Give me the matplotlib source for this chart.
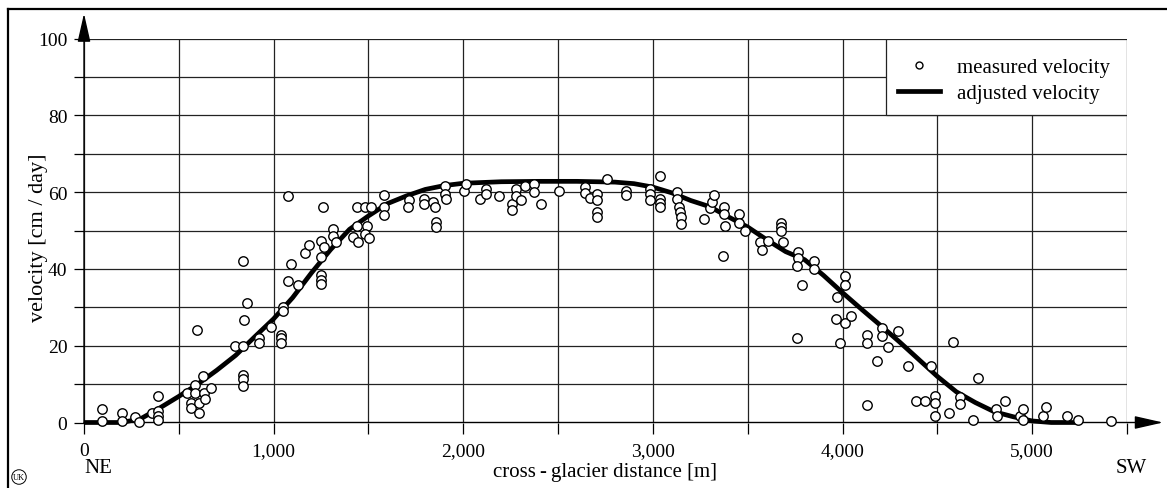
import matplotlib.pyplot as plt
from matplotlib.patches import Rectangle
from matplotlib.lines import Line2D
from matplotlib.ticker import FuncFormatter

plt.rcParams['font.family'] = ['Liberation Serif', 'DejaVu Serif']

# measured velocity points (distance m, velocity cm/day)
dist_measured = [93, 93, 199, 199, 269, 292, 357, 392, 392, 392, 392,
                 545, 563, 563, 586, 586, 596, 607, 607, 630, 634, 638, 670,
                 797, 837, 837, 837, 837, 837, 858, 846, 923, 923, 987,
                 1040, 1040, 1040, 1052, 1052, 1078, 1092, 1128, 1163,
                 1250, 1250, 1250, 1250,
                 1078, 1258, 1189, 1251, 1263, 1315, 1315, 1330,
                 1439, 1483, 1513, 1439, 1491, 1421, 1447, 1483, 1501,
                 1580, 1580, 1580, 1712, 1706, 1794, 1794, 1843, 1849, 1858, 1858,
                 1905, 1905, 1909, 2002, 2016, 2086, 2120, 2120, 2190,
                 2257, 2257, 2278, 2278, 2304, 2327, 2371, 2371, 2412, 2507,
                 2640, 2644, 2667, 2705, 2705, 2705, 2705,
                 2758, 2858, 2858, 2983, 2983, 2983,
                 3040, 3040, 3040, 3040, 3127, 3127, 3140, 3145, 3150, 3150,
                 3268, 3300, 3312, 3321, 3374, 3374, 3379, 3370, 3456, 3456,
                 3483, 3567, 3573, 3607, 3678, 3678, 3678, 3687, 3766,
                 3766, 3761, 3784, 3761, 3849, 3849, 4012, 4012, 3972, 3966,
                 4012, 4042, 3986, 4130, 4130, 4127, 4206, 4206, 4241, 4183,
                 4294, 4346, 4464, 4389, 4433, 4487, 4487, 4487, 4561, 4584,
                 4619, 4619, 4688, 4714, 4811, 4816, 4857, 4934, 4952, 4952,
                 5059, 5075, 5186, 5243, 5418]
vel_measured = [3.6, 0.4, 2.6, 0.4, 1.5, 0.2, 2.6, 7, 3, 1.7, 0.6,
                7.8, 5.2, 3.9, 9.7, 7.8, 24, 5, 2.5, 12, 7.8, 6, 8.9,
                19.9, 42, 19.9, 12.3, 11.2, 9.5, 31, 26.8, 21.9, 20.8, 24.8,
                22.9, 21.9, 20.8, 30.1, 29, 36.8, 41.3, 35.9, 44.2,
                38.4, 37.2, 36, 43.1,
                59, 56.2, 46.1, 47.2, 45.7, 50.3, 48.6, 46.9,
                56, 56, 56, 51.1, 51.1, 48.2, 46.9, 49.2, 48.1,
                59.2, 56, 54, 58, 56, 58.3, 56.9, 57.3, 56, 52.3, 51,
                61.5, 59.6, 58.2, 60.4, 62.2, 58.3, 60.9, 59.4, 59,
                57, 55.3, 60.9, 59, 58, 61.6, 62, 60.1, 56.9, 60.4,
                61.4, 59.8, 58.5, 59.4, 58, 54.8, 53.6,
                63.3, 60.4, 59.2, 60.9, 59.4, 58,
                64.1, 58.2, 57.1, 56, 60.1, 58.1, 56.2, 54.9, 53.6, 51.8,
                53.1, 55.9, 57.5, 59.2, 56.2, 54.2, 51.1, 43.3, 54.3, 52,
                49.8, 47, 44.9, 47.3, 52, 50.8, 49.8, 47, 44.4,
                42.9, 40.8, 35.9, 21.9, 42, 40, 38.2, 35.9, 32.7, 26.9,
                26, 27.7, 20.8, 22.7, 20.8, 4.5, 24.7, 22.6, 19.7, 16,
                23.8, 14.7, 14.7, 5.5, 5.5, 6.9, 5.2, 1.7, 2.5, 21,
                6.7, 4.7, 0.6, 11.6, 3.6, 1.7, 5.5, 1.7, 3.6, 0.6,
                1.6, 4.1, 1.6, 0.6, 0.5]

# adjusted velocity curve
dist_adjusted = [0, 200, 300, 400, 500, 600, 700, 800, 900, 1000, 1100, 1200,
                 1300, 1400, 1500, 1600, 1700, 1800, 1900, 2000, 2200, 2400,
                 2600, 2800, 2900, 3000, 3100, 3200, 3300, 3400, 3500, 3600,
                 3700, 3800, 3900, 4000, 4100, 4200, 4300, 4400, 4500, 4600,
                 4700, 4800, 4900, 5000, 5100, 5250]
vel_adjusted = [0, 0, 1, 3.8, 6.8, 10, 13.6, 17.5, 22.3, 27, 32.5, 39,
                45, 50.3, 53.8, 57, 59, 60.7, 61.7, 62.3, 62.7, 62.8,
                62.8, 62.6, 62.2, 61.3, 59.8, 57.8, 56.2, 53.5, 50.9, 47.6,
                44.5, 42.4, 38.3, 33.8, 29.5, 25.3, 21, 16.5, 12, 8,
                5.2, 2.8, 1.5, 0.4, 0, 0]

x_ticks = list(range(0, 5501, 500))
y_ticks = list(range(0, 101, 10))

fig = plt.figure(figsize=(11.67, 4.89), dpi=100)
ax = fig.add_axes([84 / 1167, 65.5 / 489, 1043 / 1167, 384 / 489])

ax.set_xlim(0, 5500)
ax.set_ylim(0, 100)
ax.set_xticks(x_ticks)
ax.set_yticks(y_ticks)
ax.xaxis.set_major_formatter(FuncFormatter(lambda v, p: f'{int(v):,}' if v % 1000 == 0 else ''))
ax.yaxis.set_major_formatter(FuncFormatter(lambda v, p: f'{int(v)}' if v % 20 == 0 else ''))
ax.tick_params(axis='x', length=8, width=0.9, pad=6, labelsize=14)
ax.tick_params(axis='y', length=7, width=0.9, pad=5, labelsize=14)
ax.grid(True, color='#222222', lw=0.9)
ax.set_axisbelow(True)
for s in ax.spines.values():
    s.set_visible(False)

# axis arrows
ax.annotate('', xy=(5690, 0), xytext=(0, 0), annotation_clip=False,
            arrowprops=dict(arrowstyle='-|>,head_length=1.1,head_width=0.25',
                            color='black', lw=1.0, shrinkA=0, shrinkB=0, mutation_scale=16))
ax.annotate('', xy=(0, 106.5), xytext=(0, 0), annotation_clip=False,
            arrowprops=dict(arrowstyle='-|>,head_length=1.1,head_width=0.25',
                            color='black', lw=1.0, shrinkA=0, shrinkB=0, mutation_scale=16))

ax.plot(dist_adjusted, vel_adjusted, color='black', lw=3.4, solid_capstyle='butt',
        zorder=3, label='adjusted velocity', clip_on=False)
ax.plot(dist_measured, vel_measured, 'o', ms=6.8, mfc='white', mec='black', mew=1.0,
        zorder=4, label='measured velocity', clip_on=False)

# legend box
ax.add_patch(Rectangle((4230, 80), 1270, 20, facecolor='white', edgecolor='#222222',
                       lw=0.9, zorder=5))
h, l = ax.get_legend_handles_labels()
leg = ax.legend([h[1], Line2D([], [], color='black', lw=3.4)], [l[1], l[0]],
                loc='upper left', bbox_to_anchor=(4250 / 5500, 0.972), frameon=False,
                fontsize=15, handlelength=2.0, handletextpad=0.8, labelspacing=0.32,
                borderaxespad=0)
leg.set_zorder(6)
leg.legend_handles[0].set_markersize(5)

ax.set_ylabel('velocity [cm / day]', fontsize=16)
ax.yaxis.set_label_coords(-0.0345, 0.483)
fig.text(605 / 1167, 1 - 472 / 489, 'cross\u2009-\u2009glacier distance [m]', fontsize=15,
         ha='center', va='center')
fig.text(98 / 1167, 1 - 469 / 489, 'NE', fontsize=15, ha='center', va='center')
fig.text(1131 / 1167, 1 - 469 / 489, 'SW', fontsize=15, ha='center', va='center')
fig.text(19 / 1167, 1 - 478 / 489, 'UK', fontsize=6, ha='center', va='center',
         bbox=dict(boxstyle='circle,pad=0.15', fc='white', ec='black', lw=0.7))

# outer frame
fig.add_artist(Line2D([8 / 1167, 1], [1 - 9.5 / 489, 1 - 9.5 / 489], color='black', lw=1.6))
fig.add_artist(Line2D([8 / 1167, 8 / 1167], [0, 1 - 9.5 / 489], color='black', lw=1.6))

fig.savefig('out.png', dpi=100)
